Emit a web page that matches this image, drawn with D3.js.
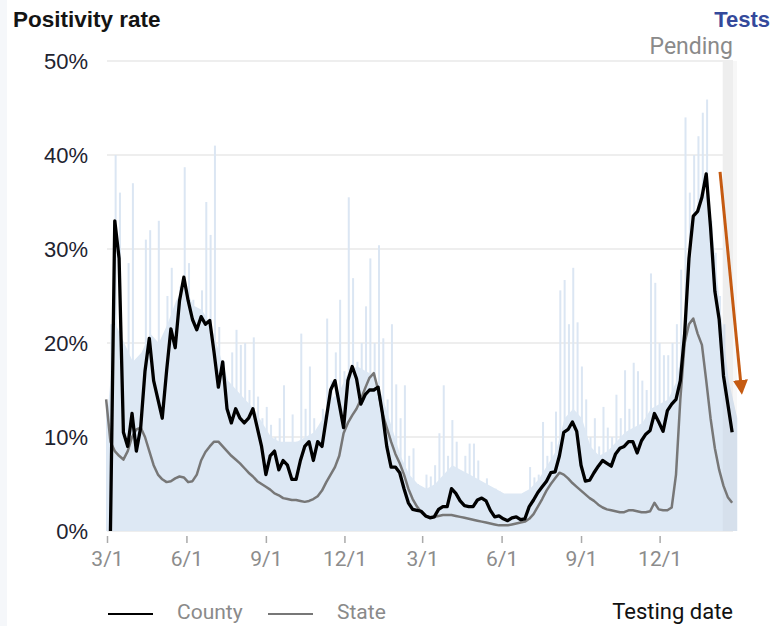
<!DOCTYPE html>
<html lang="en">
<head>
<meta charset="utf-8">
<title>Positivity rate</title>
<script src="https://cdn.jsdelivr.net/npm/d3@7"></script>
<style>
  body { margin: 0; background: #fff; }
  svg { display: block; }
</style>
</head>
<body>
<script>
// ---- data (percent; tests in tests/day) ----
var countyStart = "2020-03-05", countyStep = 5;
var countyValues = [0, 33, 29, 10.5, 9, 12.5, 8.5, 11, 17, 20.5,
  16, 14, 12, 17, 21.5, 19.5, 24.5, 27, 24.5, 22.5,
  21.4, 22.8, 22, 22.4, 19, 15.3, 18, 13, 11.5, 13,
  12, 11.5, 12, 13, 11, 9, 6, 8, 8.5, 6.5,
  7.5, 7, 5.5, 5.5, 7.5, 9, 9.5, 7.5, 9.5, 9,
  12, 15, 16, 13.5, 11, 16, 17.5, 16.2, 13.5, 14.5,
  15, 15, 15.3, 12.5, 9, 6.8, 6.8, 6.2, 4.5, 3,
  2.3, 2.2, 2.1, 1.6, 1.4, 1.5, 2.3, 2.6, 2.6, 4.5,
  4, 3.2, 2.7, 2.6, 2.6, 3.3, 3.5, 3.2, 2.2, 1.5,
  1.6, 1.3, 1.1, 1.4, 1.5, 1.2, 1.3, 2.6, 3.3, 4.1,
  4.7, 5.3, 6.2, 6.3, 8, 10.5, 10.8, 11.6, 10.6, 7,
  5.3, 5.4, 6.2, 6.9, 7.5, 7.2, 6.9, 8.2, 8.8, 9,
  9.5, 9.5, 8.3, 9.6, 10.3, 10.7, 12.5, 11.6, 10.6, 12.8,
  13.5, 14, 16, 21, 29, 33.5, 34, 35.5, 38, 32.3,
  25.5, 22.5, 16.5, 13.5, 10.5];

var stateStart = "2020-02-29", stateStep = 5;
var stateValues = [14, 9.5, 8.5, 8, 7.6, 8.5, 10, 10.8, 11, 10,
  8.5, 7, 6, 5.5, 5.2, 5.3, 5.6, 5.8, 5.7, 5.2,
  5.3, 6, 7.5, 8.4, 9, 9.5, 9.5, 9, 8.5, 8,
  7.6, 7.2, 6.7, 6.2, 5.8, 5.3, 5, 4.7, 4.4, 4,
  3.8, 3.5, 3.4, 3.3, 3.3, 3.2, 3.1, 3.2, 3.4, 3.7,
  4.3, 5.2, 6, 6.8, 8, 10.4, 11.5, 12.3, 13, 14,
  15.2, 16.3, 16.8, 15, 12.5, 11, 9.5, 8.2, 7.2, 6,
  4.5, 3.4, 2.6, 2, 1.6, 1.5, 1.5, 1.6, 1.7, 1.7,
  1.7, 1.6, 1.5, 1.4, 1.3, 1.2, 1.1, 1, 0.9, 0.8,
  0.7, 0.6, 0.6, 0.6, 0.7, 0.8, 0.9, 1, 1.3, 1.8,
  2.6, 3.4, 4.3, 5, 5.6, 6.2, 6, 5.6, 5.1, 4.7,
  4.3, 3.9, 3.5, 3.2, 2.8, 2.5, 2.3, 2.2, 2.1, 2,
  2, 2.2, 2.2, 2.1, 2, 2, 2.1, 3, 2.3, 2.2,
  2.2, 2.5, 6, 14, 20, 22, 22.6, 21, 19.8, 16,
  12, 8.8, 6.5, 4.8, 3.6, 3];

var testStart = "2020-03-01", testStep = 5;
var testValues = [130, 220, 400, 360, 180, 285, 370, 160, 180, 310,
  320, 200, 330, 190, 250, 280, 220, 260, 387, 285,
  246, 220, 256, 350, 315, 410, 217, 180, 140, 190,
  214, 198, 200, 150, 206, 143, 120, 132, 113, 100,
  120, 155, 90, 124, 95, 210, 130, 175, 120, 110,
  130, 226, 160, 190, 246, 170, 355, 269, 180, 200,
  239, 290, 200, 304, 205, 140, 220, 156, 120, 155,
  80, 88, 50, 40, 60, 58, 70, 104, 155, 80,
  118, 95, 60, 80, 93, 93, 75, 50, 56, 40,
  45, 42, 35, 32, 37, 30, 35, 40, 68, 57,
  60, 116, 80, 95, 127, 256, 267, 220, 280, 222,
  175, 140, 100, 120, 90, 132, 110, 100, 145, 120,
  171, 130, 179, 170, 160, 150, 274, 264, 200, 187,
  187, 200, 220, 278, 440, 360, 400, 420, 445, 459,
  330, 296, 250, 220, 150, 118];

var testAvgStart = "2020-03-01", testAvgStep = 10;
var testAvgValues = [120, 220, 200, 180, 190, 210, 200, 220, 245, 260,
  240, 235, 220, 190, 160, 150, 140, 130, 115, 100,
  95, 95, 95, 100, 105, 120, 140, 150, 170, 175,
  170, 165, 140, 110, 80, 60, 50, 45, 50, 60,
  70, 65, 60, 55, 50, 45, 40, 40, 40, 45,
  55, 70, 85, 120, 130, 120, 90, 80, 85, 95,
  105, 110, 115, 130, 135, 140, 160, 220, 330, 370,
  330, 240, 160, 120];

var xTickDates = ["2020-03-01", "2020-06-01", "2020-09-01", "2020-12-01",
  "2021-03-01", "2021-06-01", "2021-09-01", "2021-12-01"];
var yTicks = [0, 10, 20, 30, 40, 50];
var dateRange = ["2020-03-01", "2022-02-24"];
var pendingStart = "2022-02-12";
var arrowFrom = ["2022-02-09", 38.2], arrowTo = ["2022-03-06", 14.8];

// ---- setup ----
var parse = d3.utcParse("%Y-%m-%d");
function series(start, step, values) {
  var s = parse(start);
  return values.map(function(v, i) {
    return { date: d3.utcDay.offset(s, i * step), value: v };
  });
}
var county = series(countyStart, countyStep, countyValues);
var state = series(stateStart, stateStep, stateValues);
var tests = series(testStart, testStep, testValues);
var testAvg = series(testAvgStart, testAvgStep, testAvgValues);

var W = 773, H = 626;
var margin = { top: 61, right: 40, bottom: 95, left: 107 };

var x = d3.scaleUtc().domain(dateRange.map(parse)).range([margin.left, W - margin.right]);
var y = d3.scaleLinear().domain([0, 50]).range([H - margin.bottom, margin.top]);
var yTests = d3.scaleLinear().domain([0, 500]).range([H - margin.bottom, margin.top]);

var svg = d3.select("body").append("svg")
  .attr("width", W).attr("height", H);

svg.append("rect").attr("x", 0).attr("y", 0).attr("width", 7).attr("height", H)
  .attr("fill", "#f5f7fa");

// gridlines
svg.append("g").selectAll("line").data(yTicks).enter().append("line")
  .attr("x1", x.range()[0]).attr("x2", x.range()[1])
  .attr("y1", function(d) { return y(d); }).attr("y2", function(d) { return y(d); })
  .attr("stroke", "#eeeeee").attr("stroke-width", 2);

// pending band
svg.append("rect")
  .attr("x", x(parse(pendingStart)))
  .attr("y", y(50))
  .attr("width", x.range()[1] - x(parse(pendingStart)))
  .attr("height", y(0) - y(50))
  .attr("fill", "#f6f6f6");

// daily test bars
svg.append("g").selectAll("rect").data(tests).enter().append("rect")
  .attr("x", function(d) { return x(d.date) - 1; })
  .attr("width", 2)
  .attr("y", function(d) { return yTests(d.value); })
  .attr("height", function(d) { return yTests(0) - yTests(d.value); })
  .attr("fill", "#dbe6f3");

// tests average area
var area = d3.area()
  .x(function(d) { return x(d.date); })
  .y0(yTests(0))
  .y1(function(d) { return yTests(d.value); });
svg.append("path").datum(testAvg)
  .attr("d", area)
  .attr("fill", "#dde8f4");

// pending overlay on the fill
svg.append("rect")
  .attr("x", x(parse(pendingStart)))
  .attr("y", y(50))
  .attr("width", x.range()[1] - x(parse(pendingStart)) + 4)
  .attr("height", y(0) - y(50))
  .attr("fill", "#000").attr("opacity", 0.03);

var line = d3.line()
  .x(function(d) { return x(d.date); })
  .y(function(d) { return y(d.value); });

svg.append("path").datum(state)
  .attr("d", line)
  .attr("fill", "none").attr("stroke", "#777").attr("stroke-width", 2.5)
  .attr("stroke-linejoin", "round");

svg.append("path").datum(county)
  .attr("d", line)
  .attr("fill", "none").attr("stroke", "#000").attr("stroke-width", 3.3)
  .attr("stroke-linejoin", "round");

// x axis
var xAxis = d3.axisBottom(x)
  .tickValues(xTickDates.map(parse))
  .tickFormat(d3.utcFormat("%-m/%-d"))
  .tickSize(7).tickPadding(8);
var gx = svg.append("g")
  .attr("transform", "translate(0," + (y(0) + 5) + ")")
  .call(xAxis);
gx.select(".domain").remove();
gx.selectAll(".tick line").attr("stroke", "#aaa").attr("stroke-width", 1.5);
gx.selectAll(".tick text")
  .attr("fill", "#8c8c8c").style("font-family", "Roboto, sans-serif").style("font-size", "21px");

// y labels
svg.append("g").selectAll("text").data(yTicks).enter().append("text")
  .attr("x", 88)
  .attr("y", function(d) { return y(d); })
  .attr("dy", "0.35em")
  .attr("text-anchor", "end")
  .style("font-family", "Arial, 'Liberation Sans', sans-serif")
  .style("font-size", "22px")
  .attr("fill", "#1e2330")
  .text(function(d) { return d + "%"; });

// titles
svg.append("text").attr("x", 13).attr("y", 26.5)
  .style("font-family", "Arial, 'Liberation Sans', sans-serif")
  .style("font-size", "22.5px").style("font-weight", "bold")
  .attr("fill", "#141414").text("Positivity rate");

svg.append("text").attr("x", 770).attr("y", 26.5).attr("text-anchor", "end")
  .style("font-family", "Arial, 'Liberation Sans', sans-serif")
  .style("font-size", "22px").style("font-weight", "bold")
  .attr("fill", "#34499b").text("Tests");

svg.append("text").attr("x", 733).attr("y", 54).attr("text-anchor", "end")
  .style("font-family", "Roboto, sans-serif").style("font-size", "23px")
  .attr("fill", "#8a8a8a").text("Pending");

// legend
var legend = [
  { label: "County", color: "#000", x0: 108 },
  { label: "State", color: "#777", x0: 268 }
];
var lg = svg.append("g").selectAll("g").data(legend).enter().append("g");
lg.append("line")
  .attr("x1", function(d) { return d.x0; })
  .attr("x2", function(d) { return d.x0 + 45; })
  .attr("y1", 614).attr("y2", 614)
  .attr("stroke", function(d) { return d.color; }).attr("stroke-width", 2);
lg.append("text")
  .attr("x", function(d) { return d.x0 + 69; })
  .attr("y", 619)
  .style("font-family", "Roboto, sans-serif").style("font-size", "21px")
  .attr("fill", "#8a8a8a")
  .text(function(d) { return d.label; });

svg.append("text").attr("x", 733).attr("y", 619).attr("text-anchor", "end")
  .style("font-family", "Roboto, sans-serif").style("font-size", "22px")
  .attr("fill", "#111").text("Testing date");

// orange annotation arrow
svg.append("defs").append("marker")
  .attr("id", "head").attr("viewBox", "0 0 10 10")
  .attr("refX", 8).attr("refY", 5)
  .attr("markerWidth", 5).attr("markerHeight", 5)
  .attr("orient", "auto")
  .append("path").attr("d", "M0,0L10,5L0,10z").attr("fill", "#c55a11");

svg.append("line")
  .attr("x1", x(parse(arrowFrom[0]))).attr("y1", y(arrowFrom[1]))
  .attr("x2", x(parse(arrowTo[0]))).attr("y2", y(arrowTo[1]))
  .attr("stroke", "#c55a11").attr("stroke-width", 3)
  .attr("marker-end", "url(#head)");
</script>
</body>
</html>
